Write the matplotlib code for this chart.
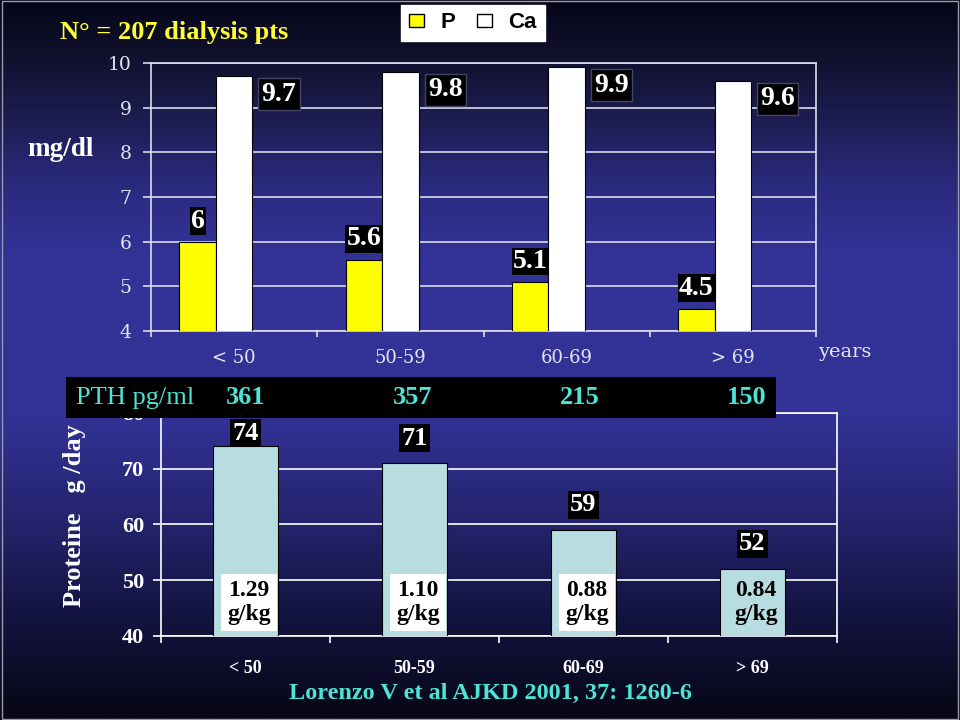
import numpy as np
import matplotlib
matplotlib.use("Agg")
import matplotlib.pyplot as plt
from matplotlib.colors import LinearSegmentedColormap
from matplotlib.patches import Patch, Rectangle
from matplotlib.transforms import blended_transform_factory

# Data
age_groups = ['< 50', '50-59', '60-69', '> 69']
p_vals = [6, 5.6, 5.1, 4.5]
ca_vals = [9.7, 9.8, 9.9, 9.6]
pth_vals = [361, 357, 215, 150]
protein_vals = [74, 71, 59, 52]
protein_per_kg = ['1.29', '1.10', '0.88', '0.84']

serif = 'Liberation Serif'
cyan = '#4de3d6'

fig = plt.figure(figsize=(9.6, 7.2), dpi=100)

# Slide background gradient (dark -> blue -> dark)
bg = fig.add_axes([0, 0, 1, 1], zorder=-10)
stops = [(0.0, '#06061a'), (0.06, '#0e0e28'), (0.15, '#1b1b4c'),
         (0.26, '#2b2b80'), (0.36, '#333398'), (0.58, '#323296'),
         (0.72, '#25256f'), (0.86, '#131340'), (1.0, '#070716')]
cmap = LinearSegmentedColormap.from_list('slide', stops)
bg.imshow(np.linspace(0, 1, 300).reshape(-1, 1), aspect='auto', cmap=cmap,
          extent=[0, 1, 0, 1])
bg.axis('off')

x = np.arange(len(age_groups))

# ---------- top chart: P and Ca ----------
ax1 = fig.add_axes([0.1573, 0.5403, 0.6927, 0.3722])
ax1.set_facecolor('none')
w = 0.22
ax1.bar(x - w, p_vals, w, bottom=0, color='#ffff00', edgecolor='black', lw=0.8, zorder=3)
ax1.bar(x, ca_vals, w, bottom=0, color='white', edgecolor='black', lw=0.8, zorder=3)
ax1.set_xlim(-0.5, 3.5)
ax1.set_ylim(4, 10)
ax1.set_yticks(range(4, 11))
ax1.grid(axis='y', color='#dcdcec', lw=1.2, zorder=1)
for s in ax1.spines.values():
    s.set_color('#dcdcec')
    s.set_linewidth(1.2)
ax1.set_xticks(x)
ax1.set_xticklabels(age_groups)
ax1.set_xticks(np.arange(-0.5, 4, 1), minor=True)
ax1.tick_params(axis='x', which='major', length=0, pad=13, labelsize=13,
                labelcolor='#e4e4f2')
ax1.tick_params(axis='x', which='minor', length=4, color='#dcdcec', width=1.2)
ax1.tick_params(axis='y', length=6, color='#dcdcec', width=1.2, pad=8,
                labelsize=13.5, labelcolor='#e4e4f2')
for lab in ax1.get_xticklabels() + ax1.get_yticklabels():
    lab.set_family('DejaVu Serif')

for i, v in enumerate(p_vals):
    ax1.text(i - w, v + 0.46, f'{v:g}', ha='center', va='center', color='white',
             family=serif, weight='bold', fontsize=20, zorder=5,
             bbox=dict(boxstyle='square,pad=0.04', fc='black', ec='none'))
for i, v in enumerate(ca_vals):
    ax1.text(i + 0.27, v - 0.4, f'{v:g}', ha='center', va='center', color='white',
             family=serif, weight='bold', fontsize=20, zorder=5,
             bbox=dict(boxstyle='square,pad=0.12', fc='black', ec='#444466', lw=1))

fig.text(818 / 960, 1 - 352 / 720, 'years', ha='left', va='center',
         color='#e4e4f2', family='DejaVu Serif', fontsize=14)
fig.text(60 / 960, 1 - 32 / 720, 'N° = 207 dialysis pts', ha='left', va='center',
         color='#ffff33', family=serif, weight='bold', fontsize=19)
fig.text(60 / 960, 1 - 150 / 720, 'mg/dl', ha='center', va='center',
         color='white', family=serif, weight='bold', fontsize=19.5)

handles = [Patch(fc='#ffff00', ec='black', lw=1, label='P'),
           Patch(fc='white', ec='black', lw=1, label='Ca')]
leg = fig.legend(handles=handles, loc='center', ncol=2,
                 bbox_to_anchor=(473 / 960, 1 - 23 / 720),
                 prop={'family': 'Liberation Sans', 'weight': 'bold', 'size': 16},
                 frameon=True, fancybox=False, framealpha=1, edgecolor='white',
                 handlelength=0.65, handleheight=0.55, handletextpad=0.75,
                 columnspacing=1.0, borderpad=0.35, borderaxespad=0)

# ---------- bottom chart: protein intake ----------
ax2 = fig.add_axes([0.1677, 0.1167, 0.7042, 0.3097])
ax2.set_facecolor('none')
ax2.bar(x, protein_vals, 0.39, bottom=0, color='#b8dde0', edgecolor='black',
        lw=0.8, zorder=3)
ax2.set_xlim(-0.5, 3.5)
ax2.set_ylim(40, 80)
ax2.set_yticks(range(40, 81, 10))
ax2.grid(axis='y', color='white', lw=1.2, zorder=1)
for s in ax2.spines.values():
    s.set_color('white')
    s.set_linewidth(1.2)
ax2.set_xticks(x)
ax2.set_xticklabels(age_groups)
ax2.set_xticks(np.arange(-0.5, 4, 1), minor=True)
ax2.tick_params(axis='x', which='major', length=0, pad=17, labelsize=13,
                labelcolor='white')
ax2.tick_params(axis='x', which='minor', length=5, color='white', width=1.2)
ax2.tick_params(axis='y', length=6, color='white', width=1.2, pad=6,
                labelsize=16, labelcolor='white')
for lab in ax2.get_xticklabels() + ax2.get_yticklabels():
    lab.set_family(serif)
    lab.set_weight('bold')

for i, v in enumerate(protein_vals):
    ax2.text(i, min(v + 4.5, 76.4), f'{v}', ha='center', va='center', color='white',
             family=serif, weight='bold', fontsize=19, zorder=5,
             bbox=dict(boxstyle='square,pad=0.08', fc='black', ec='none'))
for i, s in enumerate(protein_per_kg):
    fc = 'white' if i < 3 else 'none'
    ax2.text(i + 0.02, 46.0, f'{s}\ng/kg', ha='center', va='center', color='black',
             family=serif, weight='bold', fontsize=17, linespacing=1.2, zorder=5,
             bbox=dict(boxstyle='square,pad=0.25', fc=fc, ec='none'))

fig.text(75 / 960, 1 - 516 / 720, 'Proteine   g /day', rotation=90, ha='center',
         va='center', color='white', family=serif, weight='bold', fontsize=19)

# PTH strip across the top of the lower chart
fig.patches.append(Rectangle((66 / 960, 1 - 418 / 720), 710 / 960, 41 / 720,
                             transform=fig.transFigure, fc='black', ec='none',
                             zorder=2))
fig.text(76 / 960, 1 - 398 / 720, 'PTH pg/ml', ha='left', va='center', color=cyan,
         family=serif, fontsize=19, zorder=4)
tr = blended_transform_factory(ax2.transData, fig.transFigure)
for i, v in enumerate(pth_vals):
    fig.text(i - 0.012 * i, 1 - 398 / 720, f'{v}', transform=tr, ha='center',
             va='center', color=cyan, family=serif, weight='bold', fontsize=19,
             zorder=4)

fig.text(490 / 960, 1 - 693 / 720, 'Lorenzo V et al AJKD 2001, 37: 1260-6',
         ha='center', va='center', color=cyan, family=serif, weight='bold',
         fontsize=17.5)

# thin frame of the slide
fig.patches.append(Rectangle((0.002, 0.002), 0.996, 0.996, transform=fig.transFigure,
                             fc='none', ec='#9a9aa8', lw=1, zorder=1))

fig.savefig('out.png', dpi=100, facecolor='#06061a')
